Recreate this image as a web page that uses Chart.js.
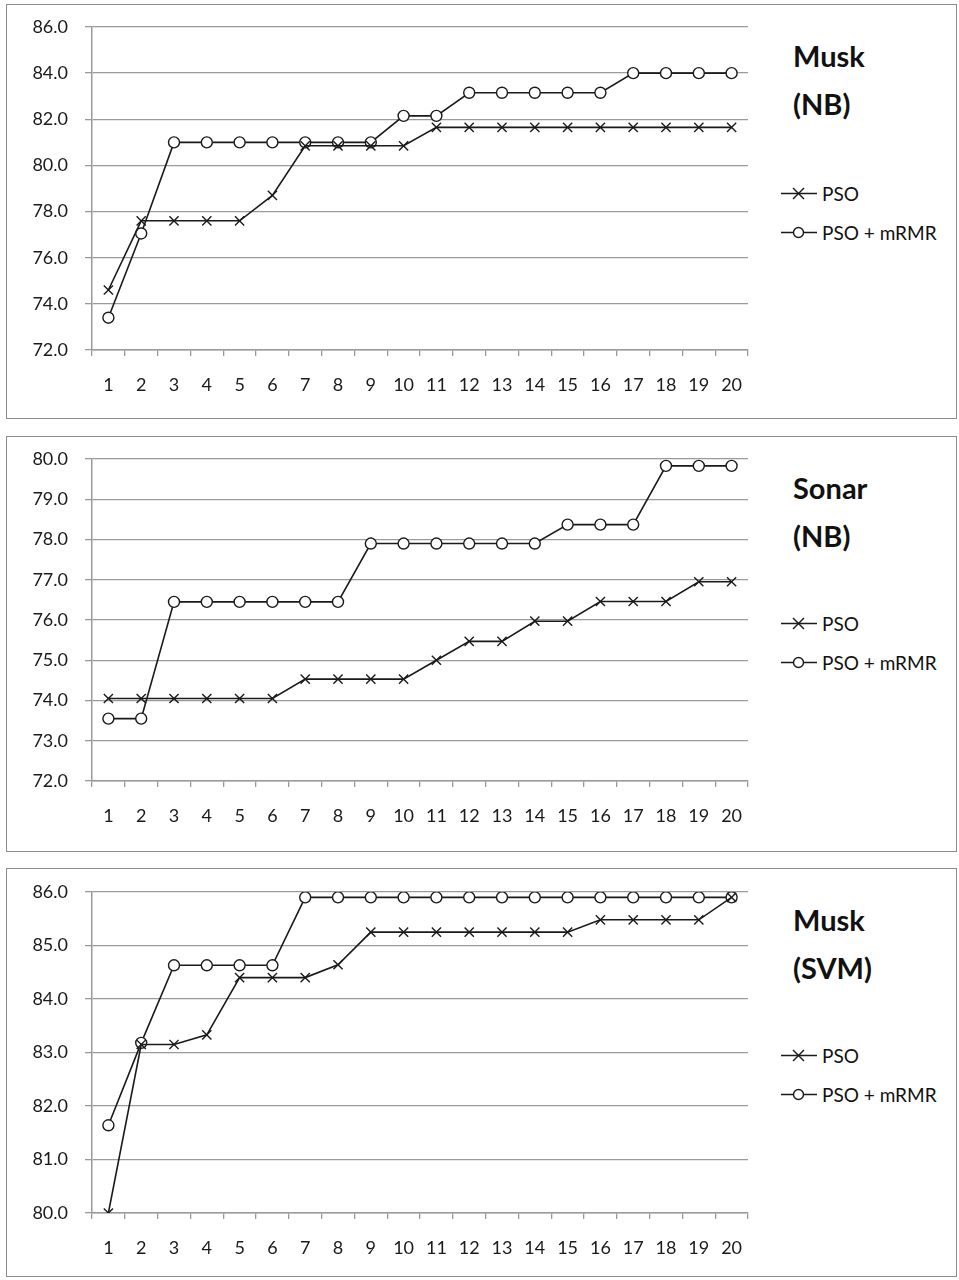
<!DOCTYPE html>
<html>
<head>
<meta charset="utf-8">
<script src="https://cdn.jsdelivr.net/npm/chart.js@4.4.1/dist/chart.umd.min.js"></script>
<style>
  body { margin: 0; background: #fff; font-family: Lato, "Liberation Sans", sans-serif; }
  .panel { position: absolute; left: 6px; width: 951px; border: 1px solid #8c8c8c; box-sizing: border-box; background: #fff; }
  .panel canvas { position: absolute; left: 0; top: 0; }
  .title { position: absolute; left: 786px; font-weight: bold; font-size: 29px; line-height: 1; color: #111; }
  .leg { position: absolute; left: 772px; height: 22px; font-size: 19px; color: #111; display: flex; align-items: center; }
  .leg svg { margin-right: 3px; }
</style>
</head>
<body>
<div id="root"></div>
<script>
/* données */
const iterations = ["1","2","3","4","5","6","7","8","9","10","11","12","13","14","15","16","17","18","19","20"];
const seriesNames = ["PSO", "PSO + mRMR"];

const muskNbPso   = [74.6, 77.6, 77.6, 77.6, 77.6, 78.7, 80.85, 80.85, 80.85, 80.85, 81.65, 81.65, 81.65, 81.65, 81.65, 81.65, 81.65, 81.65, 81.65, 81.65];
const muskNbMrmr  = [73.4, 77.05, 81.0, 81.0, 81.0, 81.0, 81.0, 81.0, 81.0, 82.15, 82.15, 83.15, 83.15, 83.15, 83.15, 83.15, 84.0, 84.0, 84.0, 84.0];

const sonarNbPso  = [74.05, 74.05, 74.05, 74.05, 74.05, 74.05, 74.53, 74.53, 74.53, 74.53, 75.0, 75.47, 75.47, 75.97, 75.97, 76.46, 76.46, 76.46, 76.95, 76.95];
const sonarNbMrmr = [73.55, 73.55, 76.45, 76.45, 76.45, 76.45, 76.45, 76.45, 77.9, 77.9, 77.9, 77.9, 77.9, 77.9, 78.37, 78.37, 78.37, 79.83, 79.83, 79.83];

const muskSvmPso  = [80.0, 83.15, 83.15, 83.33, 84.4, 84.4, 84.4, 84.64, 85.25, 85.25, 85.25, 85.25, 85.25, 85.25, 85.25, 85.48, 85.48, 85.48, 85.48, 85.9];
const muskSvmMrmr = [81.64, 83.18, 84.63, 84.63, 84.63, 84.63, 85.9, 85.9, 85.9, 85.9, 85.9, 85.9, 85.9, 85.9, 85.9, 85.9, 85.9, 85.9, 85.9, 85.9];

/* mise en page des trois panneaux (coordonnées page) */
const panels = [
  { title: ["Musk", "(NB)"],  pso: muskNbPso,  mrmr: muskNbMrmr,  min: 72, max: 86, step: 2, top: 4,   h: 415, plotTop: 27,  plotBottom: 350, leg: 188 },
  { title: ["Sonar", "(NB)"], pso: sonarNbPso, mrmr: sonarNbMrmr, min: 72, max: 80, step: 1, top: 436, h: 416, plotTop: 459, plotBottom: 781, leg: 186 },
  { title: ["Musk", "(SVM)"], pso: muskSvmPso, mrmr: muskSvmMrmr, min: 80, max: 86, step: 1, top: 868, h: 409, plotTop: 892, plotBottom: 1213, leg: 186 },
];

const INK = "#1a1a1a";
const GRID = "#9a9a9a";
const CANVAS_W = 760;
const PLOT_RIGHT = 748 - 7;

function legendSvg(style) {
  let mark = "";
  if (style === "cross") {
    mark = '<line x1="14" y1="3" x2="25" y2="14" stroke="' + INK + '" stroke-width="1.4"/><line x1="25" y1="3" x2="14" y2="14" stroke="' + INK + '" stroke-width="1.4"/>';
  } else {
    mark = '<circle cx="19.5" cy="8.5" r="5" fill="#fff" stroke="' + INK + '" stroke-width="1.4"/>';
  }
  return '<svg width="40" height="17"><line x1="2" y1="8.5" x2="38" y2="8.5" stroke="' + INK + '" stroke-width="1.6"/>' + mark + '</svg>';
}

const root = document.getElementById("root");

panels.forEach((p) => {
  const div = document.createElement("div");
  div.className = "panel";
  div.style.top = p.top + "px";
  div.style.height = p.h + "px";
  root.appendChild(div);

  const canvasH = p.h - 2;
  const inTop = p.top + 1;
  const padTop = p.plotTop - inTop;
  const xHeight = inTop + canvasH - p.plotBottom;

  const canvas = document.createElement("canvas");
  canvas.width = CANVAS_W;
  canvas.height = canvasH;
  div.appendChild(canvas);

  const t1 = document.createElement("div");
  t1.className = "title";
  t1.style.top = "36px";
  t1.textContent = p.title[0];
  div.appendChild(t1);
  const t2 = document.createElement("div");
  t2.className = "title";
  t2.style.top = "84px";
  t2.textContent = p.title[1];
  div.appendChild(t2);

  ["cross", "circle"].forEach((st, i) => {
    const l = document.createElement("div");
    l.className = "leg";
    l.style.top = (p.leg - 11 + i * 39) + "px";
    l.innerHTML = legendSvg(st) + "<span>" + seriesNames[i] + "</span>";
    div.appendChild(l);
  });

  new Chart(canvas, {
    type: "line",
    data: {
      labels: iterations,
      datasets: [
        {
          label: seriesNames[0],
          data: p.pso,
          borderColor: INK,
          borderWidth: 1.6,
          pointStyle: "crossRot",
          pointRadius: 6.5,
          pointBorderWidth: 1.4,
          pointBorderColor: INK,
          pointBackgroundColor: INK,
          fill: false,
          tension: 0,
        },
        {
          label: seriesNames[1],
          data: p.mrmr,
          borderColor: INK,
          borderWidth: 1.6,
          pointStyle: "circle",
          pointRadius: 5.5,
          pointBorderWidth: 1.4,
          pointBorderColor: INK,
          pointBackgroundColor: "#fff",
          fill: false,
          tension: 0,
        },
      ],
    },
    options: {
      responsive: false,
      animation: false,
      layout: { padding: { top: padTop, right: CANVAS_W - PLOT_RIGHT, bottom: 0, left: 0 } },
      plugins: { legend: { display: false }, tooltip: { enabled: false } },
      scales: {
        x: {
          offset: true,
          afterFit: (s) => { s.height = xHeight; },
          ticks: { font: { family: "Lato", size: 18 }, color: INK, padding: 18, maxRotation: 0, autoSkip: false },
          grid: { offset: true, drawOnChartArea: false, drawTicks: true, tickLength: 6, color: GRID, lineWidth: 1.3 },
          border: { display: true, color: GRID, width: 1.5 },
        },
        y: {
          min: p.min,
          max: p.max,
          afterFit: (s) => { s.width = 85; s.paddingTop = 0; s.paddingBottom = 0; },
          ticks: { stepSize: p.step, font: { family: "Lato", size: 18 }, color: INK, padding: 17, callback: (v) => v.toFixed(1) },
          grid: { color: GRID, lineWidth: 1.3, tickLength: 7 },
          border: { display: true, color: GRID, width: 1.5 },
        },
      },
    },
  });
});
</script>
</body>
</html>
